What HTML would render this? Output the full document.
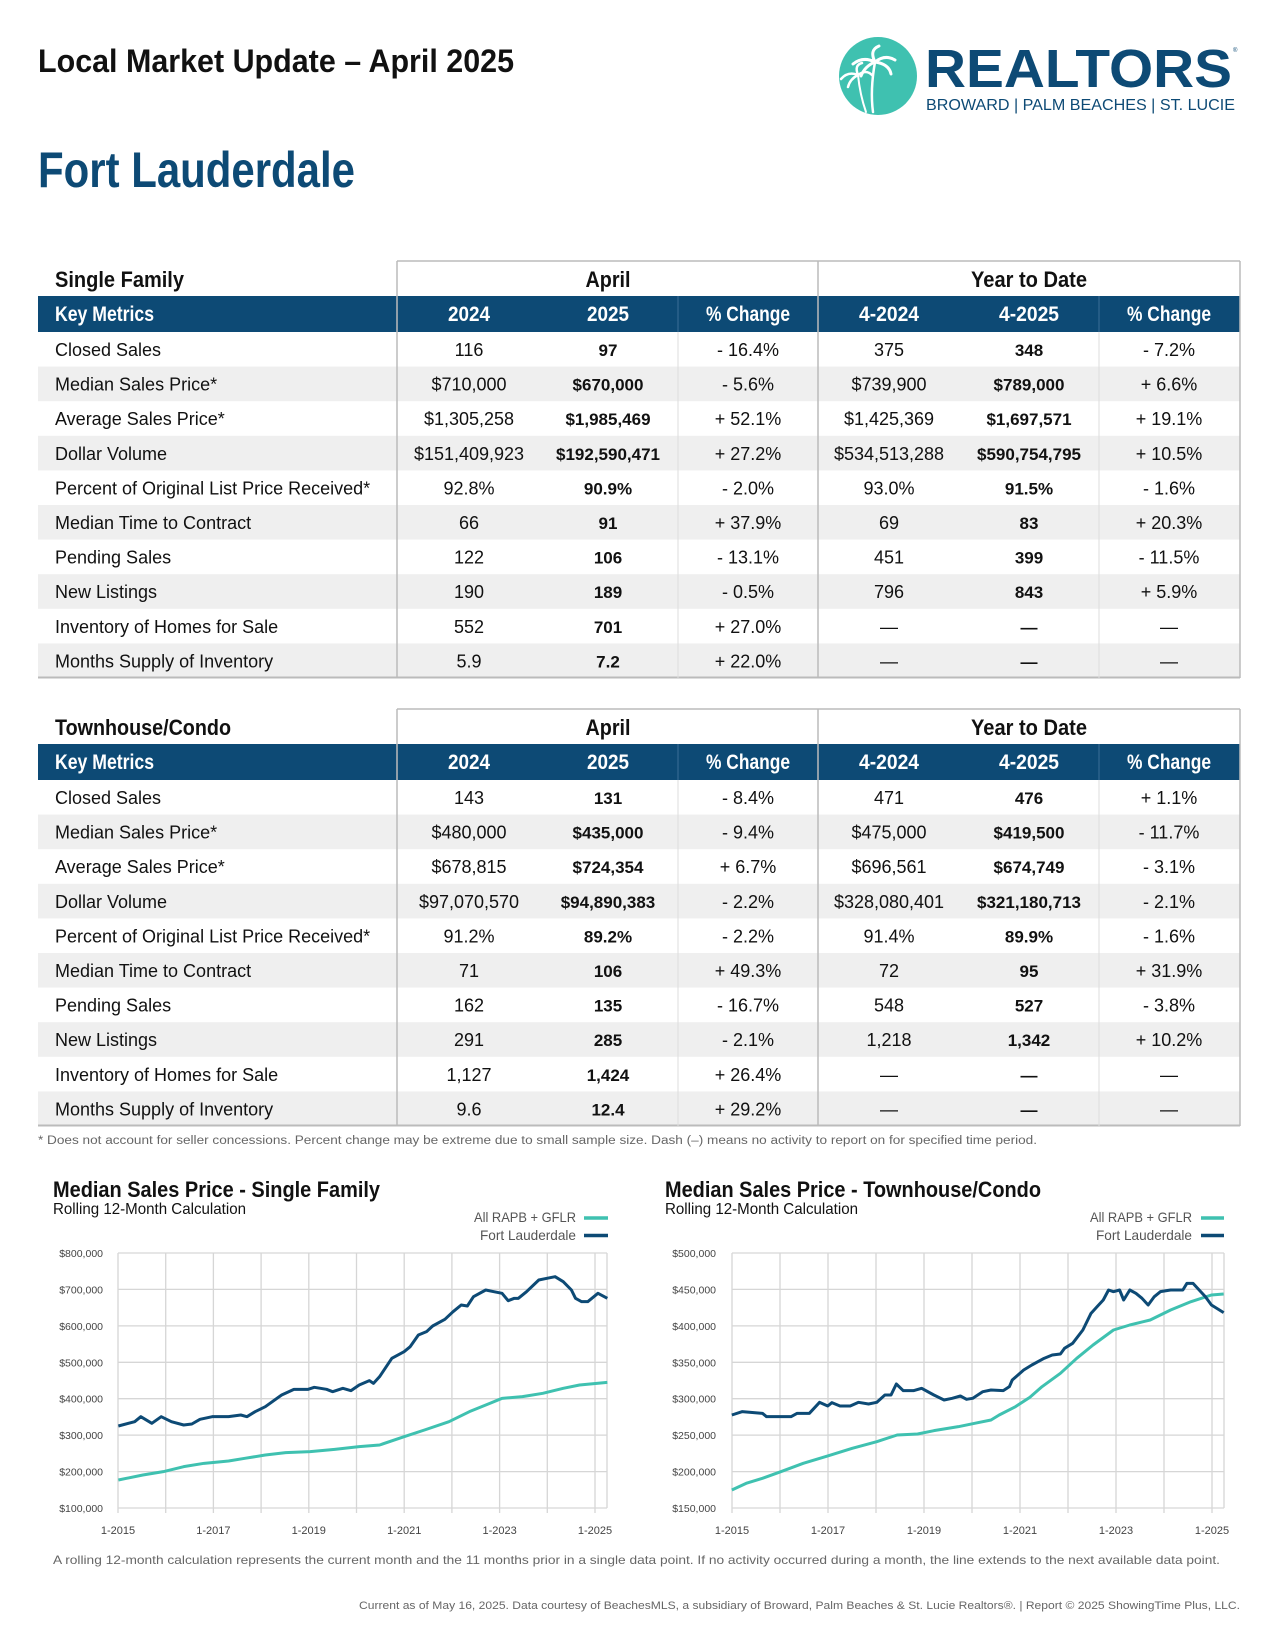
<!DOCTYPE html>
<html><head><meta charset="utf-8"><style>html,body{margin:0;padding:0;background:#fff}svg{display:block}</style></head>
<body>
<svg width="1275" height="1650" viewBox="0 0 1275 1650" xmlns="http://www.w3.org/2000/svg" font-family="Liberation Sans, Arial, sans-serif">
<rect width="1275" height="1650" fill="#fff"/>
<!-- header -->
<text x="38" y="72" font-size="32" font-weight="bold" fill="#111" textLength="476" lengthAdjust="spacingAndGlyphs">Local Market Update – April 2025</text>
<circle cx="878" cy="76" r="39" fill="#3fc1b0"/>
<g stroke="#fff" fill="none" stroke-linecap="round">
<path d="M873 112 Q870 90 875 62" stroke-width="2.5"/>
<path d="M866 112 Q860 95 858 75" stroke-width="2"/>
<path d="M875 62 q-12 -6 -22 2 M875 62 q-6 -12 4 -16 M875 62 q10 -8 20 -2 M875 62 q14 2 16 12 M875 62 q-10 4 -14 14" stroke-width="3"/>
<path d="M858 75 q-10 -4 -17 4 M858 75 q-4 -10 4 -12 M858 75 q8 -6 14 0 M858 75 q-8 4 -10 12" stroke-width="2.5"/>
</g>
<text x="925" y="87" font-size="54" font-weight="bold" fill="#0d4a75" textLength="307" lengthAdjust="spacingAndGlyphs">REALTORS</text>
<text x="1233" y="52" font-size="6" fill="#0d4a75">®</text>
<text x="926" y="110" font-size="15.5" fill="#0d4a75" textLength="309" lengthAdjust="spacingAndGlyphs">BROWARD | PALM BEACHES | ST. LUCIE</text>
<text x="38" y="187" font-size="50" font-weight="bold" fill="#0d4a75" textLength="317" lengthAdjust="spacingAndGlyphs">Fort Lauderdale</text>

<!-- TABLE 1 -->
<g>
<rect x="38" y="296" width="1202" height="36" fill="#0d4a75"/>
<g fill="#efefef">
<rect x="38" y="366.6" width="1202" height="34.6"/>
<rect x="38" y="435.8" width="1202" height="34.6"/>
<rect x="38" y="505" width="1202" height="34.6"/>
<rect x="38" y="574.2" width="1202" height="34.6"/>
<rect x="38" y="643.4" width="1202" height="34.6"/>
</g>
<g stroke="#bbb" stroke-width="1.5">
<line x1="397" y1="261" x2="1240" y2="261"/>
<line x1="397" y1="261" x2="397" y2="678"/>
<line x1="818" y1="261" x2="818" y2="678"/>
<line x1="1240" y1="261" x2="1240" y2="678"/>
<line x1="38" y1="677.5" x2="1240" y2="677.5" stroke-width="2"/>
</g>
<g stroke="#ddd" stroke-width="1"><line x1="678" y1="332" x2="678" y2="678"/><line x1="1099" y1="332" x2="1099" y2="678"/></g>
<g stroke="#3a6e96" stroke-width="1"><line x1="678" y1="296" x2="678" y2="332"/><line x1="1099" y1="296" x2="1099" y2="332"/></g>
<text x="55" y="287" font-size="22" font-weight="bold" fill="#111" textLength="129" lengthAdjust="spacingAndGlyphs">Single Family</text>
<text x="608" y="287" font-size="22" font-weight="bold" fill="#111" text-anchor="middle" textLength="45" lengthAdjust="spacingAndGlyphs">April</text>
<text x="1029" y="287" font-size="22" font-weight="bold" fill="#111" text-anchor="middle" textLength="116" lengthAdjust="spacingAndGlyphs">Year to Date</text>
<g font-size="21" font-weight="bold" fill="#fff" text-anchor="middle">
<text x="55" y="321" text-anchor="start" textLength="99" lengthAdjust="spacingAndGlyphs">Key Metrics</text>
<text x="469" y="321" textLength="42" lengthAdjust="spacingAndGlyphs">2024</text>
<text x="608" y="321" textLength="42" lengthAdjust="spacingAndGlyphs">2025</text>
<text x="748" y="321" textLength="84" lengthAdjust="spacingAndGlyphs">% Change</text>
<text x="889" y="321" textLength="60" lengthAdjust="spacingAndGlyphs">4-2024</text>
<text x="1029" y="321" textLength="60" lengthAdjust="spacingAndGlyphs">4-2025</text>
<text x="1169" y="321" textLength="84" lengthAdjust="spacingAndGlyphs">% Change</text>
</g>
<g font-size="18" fill="#111">
<g text-anchor="start">
<text x="55" y="356">Closed Sales</text><text x="55" y="390.6">Median Sales Price*</text><text x="55" y="425.2">Average Sales Price*</text><text x="55" y="459.8">Dollar Volume</text><text x="55" y="494.4">Percent of Original List Price Received*</text><text x="55" y="529">Median Time to Contract</text><text x="55" y="563.6">Pending Sales</text><text x="55" y="598.2">New Listings</text><text x="55" y="632.8">Inventory of Homes for Sale</text><text x="55" y="667.4">Months Supply of Inventory</text>
</g>
<g text-anchor="middle">
<text x="469" y="356">116</text><text x="469" y="390.6">$710,000</text><text x="469" y="425.2">$1,305,258</text><text x="469" y="459.8">$151,409,923</text><text x="469" y="494.4">92.8%</text><text x="469" y="529">66</text><text x="469" y="563.6">122</text><text x="469" y="598.2">190</text><text x="469" y="632.8">552</text><text x="469" y="667.4">5.9</text>
<g font-weight="bold" font-size="17">
<text x="608" y="356">97</text><text x="608" y="390.6">$670,000</text><text x="608" y="425.2">$1,985,469</text><text x="608" y="459.8">$192,590,471</text><text x="608" y="494.4">90.9%</text><text x="608" y="529">91</text><text x="608" y="563.6">106</text><text x="608" y="598.2">189</text><text x="608" y="632.8">701</text><text x="608" y="667.4">7.2</text>
</g>
<text x="748" y="356">- 16.4%</text><text x="748" y="390.6">- 5.6%</text><text x="748" y="425.2">+ 52.1%</text><text x="748" y="459.8">+ 27.2%</text><text x="748" y="494.4">- 2.0%</text><text x="748" y="529">+ 37.9%</text><text x="748" y="563.6">- 13.1%</text><text x="748" y="598.2">- 0.5%</text><text x="748" y="632.8">+ 27.0%</text><text x="748" y="667.4">+ 22.0%</text>
<text x="889" y="356">375</text><text x="889" y="390.6">$739,900</text><text x="889" y="425.2">$1,425,369</text><text x="889" y="459.8">$534,513,288</text><text x="889" y="494.4">93.0%</text><text x="889" y="529">69</text><text x="889" y="563.6">451</text><text x="889" y="598.2">796</text><text x="889" y="632.8">—</text><text x="889" y="667.4">—</text>
<g font-weight="bold" font-size="17">
<text x="1029" y="356">348</text><text x="1029" y="390.6">$789,000</text><text x="1029" y="425.2">$1,697,571</text><text x="1029" y="459.8">$590,754,795</text><text x="1029" y="494.4">91.5%</text><text x="1029" y="529">83</text><text x="1029" y="563.6">399</text><text x="1029" y="598.2">843</text><text x="1029" y="632.8">—</text><text x="1029" y="667.4">—</text>
</g>
<text x="1169" y="356">- 7.2%</text><text x="1169" y="390.6">+ 6.6%</text><text x="1169" y="425.2">+ 19.1%</text><text x="1169" y="459.8">+ 10.5%</text><text x="1169" y="494.4">- 1.6%</text><text x="1169" y="529">+ 20.3%</text><text x="1169" y="563.6">- 11.5%</text><text x="1169" y="598.2">+ 5.9%</text><text x="1169" y="632.8">—</text><text x="1169" y="667.4">—</text>
</g>
</g>
</g>

<!-- TABLE 2 -->
<g transform="translate(0,448)">
<rect x="38" y="296" width="1202" height="36" fill="#0d4a75"/>
<g fill="#efefef">
<rect x="38" y="366.6" width="1202" height="34.6"/>
<rect x="38" y="435.8" width="1202" height="34.6"/>
<rect x="38" y="505" width="1202" height="34.6"/>
<rect x="38" y="574.2" width="1202" height="34.6"/>
<rect x="38" y="643.4" width="1202" height="34.6"/>
</g>
<g stroke="#bbb" stroke-width="1.5">
<line x1="397" y1="261" x2="1240" y2="261"/>
<line x1="397" y1="261" x2="397" y2="678"/>
<line x1="818" y1="261" x2="818" y2="678"/>
<line x1="1240" y1="261" x2="1240" y2="678"/>
<line x1="38" y1="677.5" x2="1240" y2="677.5" stroke-width="2"/>
</g>
<g stroke="#ddd" stroke-width="1"><line x1="678" y1="332" x2="678" y2="678"/><line x1="1099" y1="332" x2="1099" y2="678"/></g>
<g stroke="#3a6e96" stroke-width="1"><line x1="678" y1="296" x2="678" y2="332"/><line x1="1099" y1="296" x2="1099" y2="332"/></g>
<text x="55" y="287" font-size="22" font-weight="bold" fill="#111" textLength="176" lengthAdjust="spacingAndGlyphs">Townhouse/Condo</text>
<text x="608" y="287" font-size="22" font-weight="bold" fill="#111" text-anchor="middle" textLength="45" lengthAdjust="spacingAndGlyphs">April</text>
<text x="1029" y="287" font-size="22" font-weight="bold" fill="#111" text-anchor="middle" textLength="116" lengthAdjust="spacingAndGlyphs">Year to Date</text>
<g font-size="21" font-weight="bold" fill="#fff" text-anchor="middle">
<text x="55" y="321" text-anchor="start" textLength="99" lengthAdjust="spacingAndGlyphs">Key Metrics</text>
<text x="469" y="321" textLength="42" lengthAdjust="spacingAndGlyphs">2024</text>
<text x="608" y="321" textLength="42" lengthAdjust="spacingAndGlyphs">2025</text>
<text x="748" y="321" textLength="84" lengthAdjust="spacingAndGlyphs">% Change</text>
<text x="889" y="321" textLength="60" lengthAdjust="spacingAndGlyphs">4-2024</text>
<text x="1029" y="321" textLength="60" lengthAdjust="spacingAndGlyphs">4-2025</text>
<text x="1169" y="321" textLength="84" lengthAdjust="spacingAndGlyphs">% Change</text>
</g>
<g font-size="18" fill="#111">
<g text-anchor="start">
<text x="55" y="356">Closed Sales</text><text x="55" y="390.6">Median Sales Price*</text><text x="55" y="425.2">Average Sales Price*</text><text x="55" y="459.8">Dollar Volume</text><text x="55" y="494.4">Percent of Original List Price Received*</text><text x="55" y="529">Median Time to Contract</text><text x="55" y="563.6">Pending Sales</text><text x="55" y="598.2">New Listings</text><text x="55" y="632.8">Inventory of Homes for Sale</text><text x="55" y="667.4">Months Supply of Inventory</text>
</g>
<g text-anchor="middle">
<text x="469" y="356">143</text><text x="469" y="390.6">$480,000</text><text x="469" y="425.2">$678,815</text><text x="469" y="459.8">$97,070,570</text><text x="469" y="494.4">91.2%</text><text x="469" y="529">71</text><text x="469" y="563.6">162</text><text x="469" y="598.2">291</text><text x="469" y="632.8">1,127</text><text x="469" y="667.4">9.6</text>
<g font-weight="bold" font-size="17">
<text x="608" y="356">131</text><text x="608" y="390.6">$435,000</text><text x="608" y="425.2">$724,354</text><text x="608" y="459.8">$94,890,383</text><text x="608" y="494.4">89.2%</text><text x="608" y="529">106</text><text x="608" y="563.6">135</text><text x="608" y="598.2">285</text><text x="608" y="632.8">1,424</text><text x="608" y="667.4">12.4</text>
</g>
<text x="748" y="356">- 8.4%</text><text x="748" y="390.6">- 9.4%</text><text x="748" y="425.2">+ 6.7%</text><text x="748" y="459.8">- 2.2%</text><text x="748" y="494.4">- 2.2%</text><text x="748" y="529">+ 49.3%</text><text x="748" y="563.6">- 16.7%</text><text x="748" y="598.2">- 2.1%</text><text x="748" y="632.8">+ 26.4%</text><text x="748" y="667.4">+ 29.2%</text>
<text x="889" y="356">471</text><text x="889" y="390.6">$475,000</text><text x="889" y="425.2">$696,561</text><text x="889" y="459.8">$328,080,401</text><text x="889" y="494.4">91.4%</text><text x="889" y="529">72</text><text x="889" y="563.6">548</text><text x="889" y="598.2">1,218</text><text x="889" y="632.8">—</text><text x="889" y="667.4">—</text>
<g font-weight="bold" font-size="17">
<text x="1029" y="356">476</text><text x="1029" y="390.6">$419,500</text><text x="1029" y="425.2">$674,749</text><text x="1029" y="459.8">$321,180,713</text><text x="1029" y="494.4">89.9%</text><text x="1029" y="529">95</text><text x="1029" y="563.6">527</text><text x="1029" y="598.2">1,342</text><text x="1029" y="632.8">—</text><text x="1029" y="667.4">—</text>
</g>
<text x="1169" y="356">+ 1.1%</text><text x="1169" y="390.6">- 11.7%</text><text x="1169" y="425.2">- 3.1%</text><text x="1169" y="459.8">- 2.1%</text><text x="1169" y="494.4">- 1.6%</text><text x="1169" y="529">+ 31.9%</text><text x="1169" y="563.6">- 3.8%</text><text x="1169" y="598.2">+ 10.2%</text><text x="1169" y="632.8">—</text><text x="1169" y="667.4">—</text>
</g>
</g>
</g>

<text x="38" y="1144" font-size="11.5" fill="#666" textLength="999" lengthAdjust="spacingAndGlyphs">* Does not account for seller concessions. Percent change may be extreme due to small sample size. Dash (–) means no activity to report on for specified time period.</text>

<!-- CHART 1 -->
<text x="53" y="1197" font-size="22" font-weight="bold" fill="#111" textLength="327" lengthAdjust="spacingAndGlyphs">Median Sales Price - Single Family</text>
<text x="53" y="1214" font-size="16" fill="#111" textLength="193" lengthAdjust="spacingAndGlyphs">Rolling 12-Month Calculation</text>
<g font-size="14" fill="#555" text-anchor="end">
<text x="576" y="1222" textLength="102" lengthAdjust="spacingAndGlyphs">All RAPB + GFLR</text>
<text x="576" y="1240" textLength="96" lengthAdjust="spacingAndGlyphs">Fort Lauderdale</text>
</g>
<line x1="584" y1="1218" x2="608" y2="1218" stroke="#3fc1b0" stroke-width="3.5"/>
<line x1="584" y1="1235.5" x2="608" y2="1235.5" stroke="#0d4a75" stroke-width="3.5"/>
<g stroke="#d6d6d6" stroke-width="1.3">
<line x1="118" y1="1253" x2="607" y2="1253"/><line x1="118" y1="1289.4" x2="607" y2="1289.4"/><line x1="118" y1="1325.9" x2="607" y2="1325.9"/><line x1="118" y1="1362.3" x2="607" y2="1362.3"/><line x1="118" y1="1398.7" x2="607" y2="1398.7"/><line x1="118" y1="1435.1" x2="607" y2="1435.1"/><line x1="118" y1="1471.6" x2="607" y2="1471.6"/><line x1="118" y1="1508" x2="607" y2="1508"/>
<line x1="118" y1="1253" x2="118" y2="1513"/><line x1="165.7" y1="1253" x2="165.7" y2="1513"/><line x1="213.4" y1="1253" x2="213.4" y2="1513"/><line x1="261.1" y1="1253" x2="261.1" y2="1513"/><line x1="308.8" y1="1253" x2="308.8" y2="1513"/><line x1="356.5" y1="1253" x2="356.5" y2="1513"/><line x1="404.2" y1="1253" x2="404.2" y2="1513"/><line x1="451.9" y1="1253" x2="451.9" y2="1513"/><line x1="499.6" y1="1253" x2="499.6" y2="1513"/><line x1="547.3" y1="1253" x2="547.3" y2="1513"/><line x1="595" y1="1253" x2="595" y2="1513"/><line x1="607" y1="1253" x2="607" y2="1508"/>
</g>
<g font-size="10.5" fill="#444" text-anchor="end">
<text x="103" y="1257">$800,000</text><text x="103" y="1293.4">$700,000</text><text x="103" y="1329.9">$600,000</text><text x="103" y="1366.3">$500,000</text><text x="103" y="1402.7">$400,000</text><text x="103" y="1439.1">$300,000</text><text x="103" y="1475.6">$200,000</text><text x="103" y="1512">$100,000</text>
</g>
<g font-size="11" fill="#444" text-anchor="middle">
<text x="118" y="1534">1-2015</text><text x="213.4" y="1534">1-2017</text><text x="308.8" y="1534">1-2019</text><text x="404.2" y="1534">1-2021</text><text x="499.6" y="1534">1-2023</text><text x="595" y="1534">1-2025</text>
</g>
<g transform="translate(0,1150) scale(0.40816,0.33333)" fill="none" stroke-linejoin="round">
<polyline vector-effect="non-scaling-stroke" stroke="#3fc1b0" stroke-width="3" points="290,990 350,975 400,965 450,950 500,940 560,933 600,925 650,915 700,908 760,905 820,898 880,890 930,885 990,860 1040,840 1100,815 1150,785 1200,760 1230,745 1280,740 1330,730 1380,715 1420,705 1488,697"/>
<polyline vector-effect="non-scaling-stroke" stroke="#0d4a75" stroke-width="3" points="290,828 330,815 345,800 372,820 395,800 420,815 450,825 470,822 490,808 520,800 560,800 590,795 605,800 625,785 650,770 690,735 720,718 755,718 770,712 800,718 815,725 840,715 860,722 880,705 905,692 915,700 930,680 960,625 990,605 1005,590 1025,555 1045,545 1060,528 1090,508 1110,485 1130,465 1145,468 1160,440 1190,420 1210,425 1230,430 1245,452 1260,445 1270,445 1290,425 1320,390 1340,385 1360,380 1380,395 1400,420 1410,445 1425,455 1440,455 1465,430 1488,445"/>
</g>

<!-- CHART 2 -->
<text x="665" y="1197" font-size="22" font-weight="bold" fill="#111" textLength="376" lengthAdjust="spacingAndGlyphs">Median Sales Price - Townhouse/Condo</text>
<text x="665" y="1214" font-size="16" fill="#111" textLength="193" lengthAdjust="spacingAndGlyphs">Rolling 12-Month Calculation</text>
<g font-size="14" fill="#555" text-anchor="end">
<text x="1192" y="1222" textLength="102" lengthAdjust="spacingAndGlyphs">All RAPB + GFLR</text>
<text x="1192" y="1240" textLength="96" lengthAdjust="spacingAndGlyphs">Fort Lauderdale</text>
</g>
<line x1="1201" y1="1218" x2="1224" y2="1218" stroke="#3fc1b0" stroke-width="3.5"/>
<line x1="1201" y1="1235.5" x2="1224" y2="1235.5" stroke="#0d4a75" stroke-width="3.5"/>
<g stroke="#d6d6d6" stroke-width="1.3">
<line x1="732" y1="1253" x2="1224" y2="1253"/><line x1="732" y1="1289.4" x2="1224" y2="1289.4"/><line x1="732" y1="1325.9" x2="1224" y2="1325.9"/><line x1="732" y1="1362.3" x2="1224" y2="1362.3"/><line x1="732" y1="1398.7" x2="1224" y2="1398.7"/><line x1="732" y1="1435.1" x2="1224" y2="1435.1"/><line x1="732" y1="1471.6" x2="1224" y2="1471.6"/><line x1="732" y1="1508" x2="1224" y2="1508"/>
<line x1="732" y1="1253" x2="732" y2="1513"/><line x1="780" y1="1253" x2="780" y2="1513"/><line x1="828" y1="1253" x2="828" y2="1513"/><line x1="876" y1="1253" x2="876" y2="1513"/><line x1="924" y1="1253" x2="924" y2="1513"/><line x1="972" y1="1253" x2="972" y2="1513"/><line x1="1020" y1="1253" x2="1020" y2="1513"/><line x1="1068" y1="1253" x2="1068" y2="1513"/><line x1="1116" y1="1253" x2="1116" y2="1513"/><line x1="1164" y1="1253" x2="1164" y2="1513"/><line x1="1212" y1="1253" x2="1212" y2="1513"/><line x1="1224" y1="1253" x2="1224" y2="1508"/>
</g>
<g font-size="10.5" fill="#444" text-anchor="end">
<text x="716" y="1257">$500,000</text><text x="716" y="1293.4">$450,000</text><text x="716" y="1329.9">$400,000</text><text x="716" y="1366.3">$350,000</text><text x="716" y="1402.7">$300,000</text><text x="716" y="1439.1">$250,000</text><text x="716" y="1475.6">$200,000</text><text x="716" y="1512">$150,000</text>
</g>
<g font-size="11" fill="#444" text-anchor="middle">
<text x="732" y="1534">1-2015</text><text x="828" y="1534">1-2017</text><text x="924" y="1534">1-2019</text><text x="1020" y="1534">1-2021</text><text x="1116" y="1534">1-2023</text><text x="1212" y="1534">1-2025</text>
</g>
<g transform="translate(640,1150) scale(0.40816,0.33333)" fill="none" stroke-linejoin="round">
<polyline vector-effect="non-scaling-stroke" stroke="#3fc1b0" stroke-width="3" points="225,1020 260,1000 300,985 345,965 400,940 460,918 520,895 580,875 630,855 680,852 720,842 780,830 820,820 860,810 880,795 920,770 955,742 985,710 1030,670 1070,625 1110,585 1160,540 1200,525 1250,510 1300,480 1350,455 1400,435 1430,432"/>
<polyline vector-effect="non-scaling-stroke" stroke="#0d4a75" stroke-width="3" points="225,795 250,785 300,790 310,800 370,800 385,790 415,790 440,757 460,768 470,758 490,768 515,768 535,757 560,762 580,757 600,735 615,735 628,702 645,722 670,722 690,715 720,735 745,750 765,745 785,738 800,748 815,745 840,725 860,720 890,722 905,710 912,690 940,660 960,645 990,625 1010,615 1030,612 1040,595 1060,580 1085,540 1105,490 1120,470 1135,450 1148,420 1160,425 1175,420 1185,450 1200,420 1215,430 1230,445 1245,465 1260,440 1275,425 1300,420 1330,420 1340,400 1355,400 1370,420 1385,440 1400,465 1430,488"/>
</g>

<text x="53" y="1564" font-size="12" fill="#666" textLength="1167" lengthAdjust="spacingAndGlyphs">A rolling 12-month calculation represents the current month and the 11 months prior in a single data point. If no activity occurred during a month, the line extends to the next available data point.</text>
<text x="1240" y="1609" font-size="11" fill="#666" text-anchor="end" textLength="881" lengthAdjust="spacingAndGlyphs">Current as of May 16, 2025. Data courtesy of BeachesMLS, a subsidiary of Broward, Palm Beaches &amp; St. Lucie Realtors®. | Report © 2025 ShowingTime Plus, LLC.</text>
</svg>
</body></html>
